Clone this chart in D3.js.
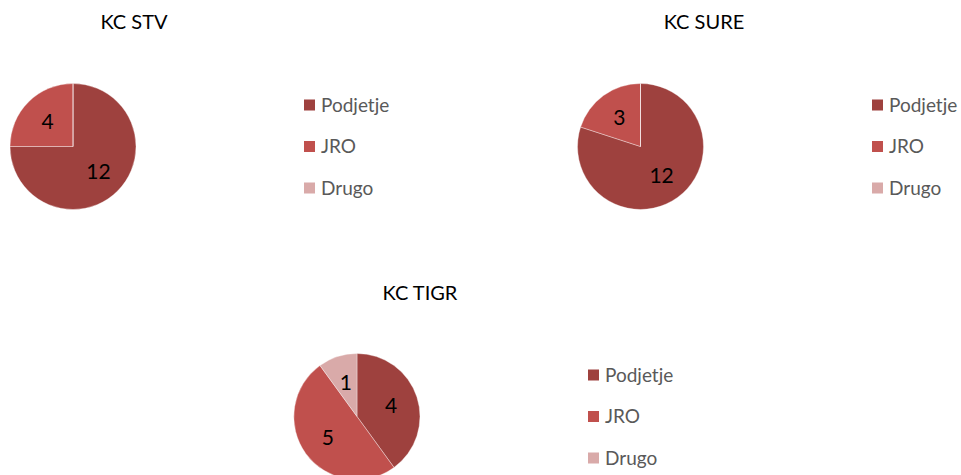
<!DOCTYPE html>
<html><head><meta charset="utf-8">
<script src="https://cdn.jsdelivr.net/npm/d3@7"></script>
<style>html,body{margin:0;padding:0;background:#fff;}</style>
</head><body>
<svg id="c" width="961" height="475"></svg>
<script>
const categories = ["Podjetje", "JRO", "Drugo"];
const colors = ["#9E413E", "#C0504D", "#D9AAA9"];
const titles = ["KC STV", "KC SURE", "KC TIGR"];
const stvValues = [12, 4, 0];
const sureValues = [12, 3, 0];
const tigrValues = [4, 5, 1];

const panels = [
  {title: titles[0], values: stvValues, cx: 73, cy: 146.5, tx: 134, ty: 29, lx: 304, ly: 105},
  {title: titles[1], values: sureValues, cx: 640.5, cy: 146.5, tx: 704, ty: 29, lx: 872, ly: 105},
  {title: titles[2], values: tigrValues, cx: 357, cy: 416.5, tx: 420, ty: 300, lx: 588, ly: 375}
];

const svg = d3.select("#c");
const font = "Lato, 'Open Sans', sans-serif";
const r = 63;
const color = d3.scaleOrdinal().domain(categories).range(colors);
const pie = d3.pie().sort(null).value(d => d.v);
const arc = d3.arc().innerRadius(0).outerRadius(r);
const labelArc = d3.arc().innerRadius(r * 0.57).outerRadius(r * 0.57);

panels.forEach(p => {
  const data = categories.map((c, i) => ({c, v: p.values[i]}));
  const g = svg.append("g").attr("transform", `translate(${p.cx},${p.cy})`);
  const arcs = pie(data);
  g.selectAll("path").data(arcs).enter().append("path")
    .attr("d", arc)
    .attr("fill", d => color(d.data.c))
    .attr("stroke", "#fff").attr("stroke-width", 0.6).attr("stroke-opacity", 0.6);
  g.selectAll("text").data(arcs.filter(d => d.data.v > 0)).enter().append("text")
    .attr("transform", d => `translate(${labelArc.centroid(d)})`)
    .attr("text-anchor", "middle").attr("dy", "0.36em")
    .attr("font-family", font).attr("font-size", 21).attr("fill", "#000")
    .text(d => d.data.v);

  svg.append("text").attr("x", p.tx).attr("y", p.ty)
    .attr("text-anchor", "middle").attr("font-family", font)
    .attr("font-size", 20).attr("fill", "#000").text(p.title);

  const yLeg = d3.scalePoint().domain(categories).range([p.ly, p.ly + 83]);
  const lg = svg.append("g");
  categories.forEach(c => {
    lg.append("rect").attr("x", p.lx).attr("y", yLeg(c) - 5.5)
      .attr("width", 11).attr("height", 11).attr("fill", color(c));
    lg.append("text").attr("x", p.lx + 17).attr("y", yLeg(c)).attr("dy", "0.36em")
      .attr("font-family", font).attr("font-size", 19).attr("fill", "#595959").text(c);
  });
});
</script>
</body></html>
